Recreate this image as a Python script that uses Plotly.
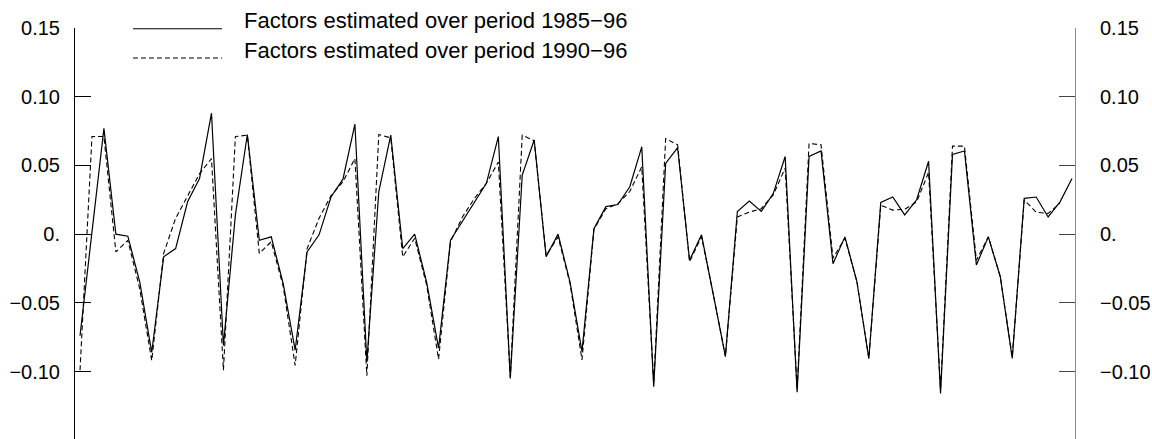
import plotly.graph_objects as go

# Monthly factor estimates, 84 months
months = list(range(1, 85))

factors_1985_96 = [
    -0.074, 0.000, 0.077, 0.000, -0.0015, -0.035, -0.086, -0.0165, -0.0105, 0.0235, 0.0405, 0.088,
    -0.081, 0.014, 0.0725, -0.0045, -0.002, -0.036, -0.0845, -0.013, -0.0005, 0.027, 0.040, 0.080,
    -0.093, 0.031, 0.072, -0.0105, 0.000, -0.035, -0.083, -0.0045, 0.009, 0.0225, 0.037, 0.071,
    -0.105, 0.043, 0.0685, -0.0165, 0.000, -0.035, -0.0855, 0.004, 0.020, 0.0215, 0.0345, 0.0635,
    -0.111, 0.0515, 0.063, -0.019, -0.0005, -0.0445, -0.089, 0.0165, 0.024, 0.0165, 0.0295, 0.0565,
    -0.115, 0.0565, 0.0605, -0.0215, -0.002, -0.0345, -0.0905, 0.023, 0.027, 0.014, 0.025, 0.053,
    -0.116, 0.058, 0.0605, -0.0225, -0.002, -0.031, -0.0905, 0.026, 0.027, 0.0125, 0.0235, 0.0405,
]

factors_1990_96 = [
    -0.099, 0.071, 0.071, -0.013, -0.0045, -0.040, -0.092, -0.014, 0.0115, 0.028, 0.044, 0.055,
    -0.099, 0.071, 0.072, -0.014, -0.0055, -0.038, -0.0955, -0.0105, 0.0115, 0.028, 0.038, 0.055,
    -0.103, 0.0725, 0.070, -0.0165, -0.003, -0.037, -0.091, -0.0055, 0.0125, 0.026, 0.037, 0.0525,
    -0.104, 0.072, 0.068, -0.0155, -0.002, -0.036, -0.0915, 0.0035, 0.0185, 0.022, 0.031, 0.049,
    -0.109, 0.0695, 0.065, -0.020, -0.002, -0.0445, -0.089, 0.0125, 0.016, 0.0185, 0.0285, 0.048,
    -0.113, 0.066, 0.065, -0.0175, -0.003, -0.0345, -0.0905, 0.021, 0.0175, 0.018, 0.0235, 0.045,
    -0.113, 0.064, 0.064, -0.019, -0.002, -0.031, -0.0895, 0.025, 0.016, 0.015, 0.0225, None,
]

tick_values = [0.15, 0.10, 0.05, 0.0, -0.05, -0.10]
tick_labels = ["0.15", "0.10", "0.05", "0.", "\u22120.05", "\u22120.10"]

legend_labels = [
    "Factors estimated over period 1985\u221296",
    "Factors estimated over period 1990\u221296",
]

FONT = "Liberation Sans, Arial, Helvetica, sans-serif"
y_range = [-0.1491, 0.15]

fig = go.Figure()
fig.add_trace(go.Scatter(
    x=months, y=factors_1985_96, mode="lines", yaxis="y",
    line=dict(color="black", width=1.2), showlegend=False,
))
# second series sits on the right-hand axis, which mirrors the left one
fig.add_trace(go.Scatter(
    x=months, y=factors_1990_96, mode="lines", yaxis="y2",
    line=dict(color="black", width=1.1, dash="5px,3px"), showlegend=False,
))

# Hand-drawn legend: long line samples with text to the right
legend_rows = [(0.998, "solid", 1.019), (0.927, "5px,3px", 0.946)]
for (line_y, dash, text_y), label in zip(legend_rows, legend_labels):
    fig.add_shape(type="line", xref="paper", yref="paper",
                  x0=0.058, x1=0.147, y0=line_y, y1=line_y,
                  line=dict(color="black", width=1.1, dash=dash))
    fig.add_annotation(xref="paper", yref="paper", x=0.167, y=text_y,
                       xanchor="left", yanchor="middle", showarrow=False,
                       text=label, font=dict(family=FONT, size=22, color="black"))

axis_common = dict(
    range=y_range, tickvals=tick_values, ticktext=tick_labels,
    ticks="inside", ticklen=16, tickwidth=1,
    showgrid=False, zeroline=False, showline=True, linewidth=1,
    tickfont=dict(family=FONT, size=20, color="black"),
)

fig.update_layout(
    width=1152, height=439,
    margin=dict(l=75, r=77, t=28, b=0, pad=0),
    paper_bgcolor="white", plot_bgcolor="white",
    xaxis=dict(range=[0.58, 84.25], visible=False),
    yaxis=dict(side="left", linecolor="black", tickcolor="black",
               ticklabelstandoff=10, **axis_common),
    yaxis2=dict(side="right", overlaying="y", anchor="x", matches="y",
                linecolor="#8a8a8a", tickcolor="#444444",
                ticklabelstandoff=20, **axis_common),
)

fig.write_html("out.html")
